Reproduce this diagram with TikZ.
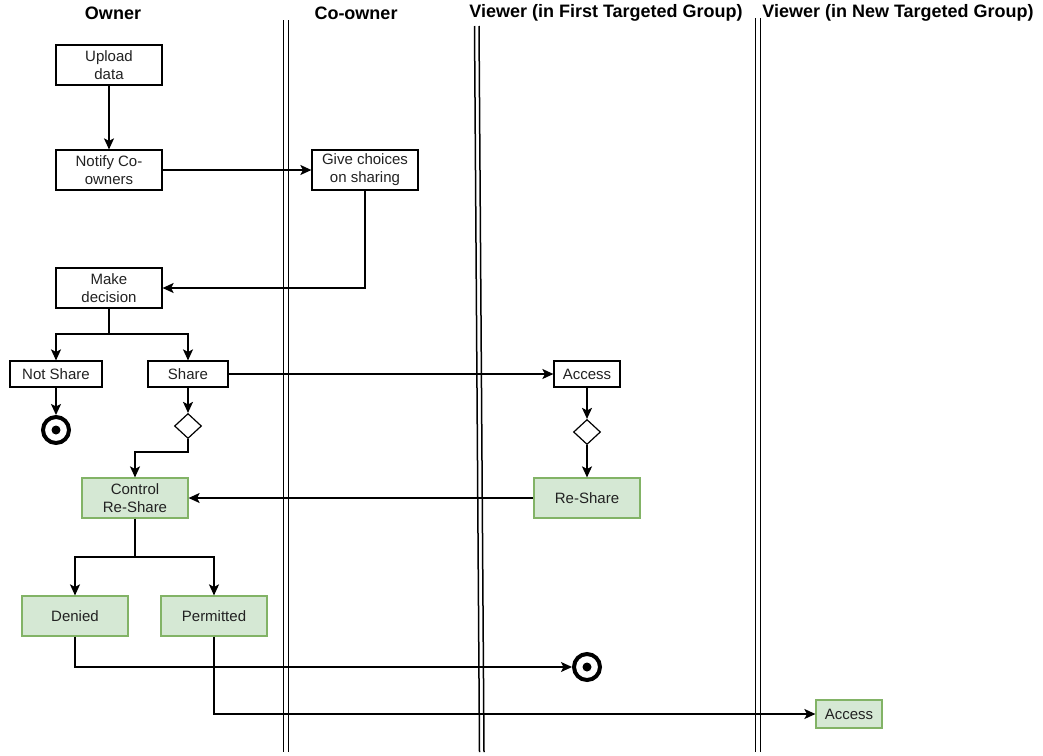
\documentclass[tikz,border=0pt]{standalone}
\usepackage{fontspec}
\setmainfont{Liberation Sans}
\usetikzlibrary{arrows.meta,shapes.geometric}
\definecolor{gfill}{HTML}{D5E8D4}
\definecolor{gline}{HTML}{82B366}
\definecolor{ink}{HTML}{222222}
\tikzset{
  act/.style={draw=black, line width=1.2pt, fill=white, align=center, inner sep=0pt,
    font=\fontsize{15}{18}\selectfont, text=ink},
  green/.style={act, fill=gfill, draw=gline},
  choice/.style={draw=black, line width=1.2pt, fill=white, diamond, inner sep=0pt,
    minimum width=27pt, minimum height=25pt},
  finish/.style={circle, draw=black, line width=4pt, minimum size=26pt, inner sep=0pt,
    path picture={\fill[black] (path picture bounding box.center) circle (4.5pt);}},
  flow/.style={line width=1.4pt, -{Stealth[length=11pt,width=10pt,inset=2.5pt]}},
  link/.style={line width=1.4pt},
  lane/.style={line width=1.5pt},
  head/.style={font=\fontsize{18}{21}\selectfont\bfseries, inner sep=0pt},
}
\begin{document}
\begin{tikzpicture}[x=1pt,y=-1pt]
\useasboundingbox (0,0) rectangle (1043,755);

% swimlane headers
\node[head] (hOwner) at (113,13) {Owner};
\node[head] (hCo) at (356,13) {Co-owner};
\node[head] (hV1) at (606,13) {Viewer (in First Targeted Group)};
\node[head] (hV2) at (898,13) {Viewer (in New Targeted Group)};

% lane separators (double lines)
\draw[lane] (283.5,20) -- (283.5,752);
\draw[lane] (288.5,20) -- (288.5,752);
\draw[lane] (474.5,26) -- (479.5,752);
\draw[lane] (479,26) -- (484,752);
\draw[lane] (755.5,18) -- (755.5,752);
\draw[lane] (760.5,18) -- (760.5,752);

% activities
\node[act, minimum width=106pt, minimum height=40pt] (up) at (109,65) {Upload\\data};
\node[act, minimum width=106pt, minimum height=40pt] (notify) at (109,170) {Notify Co-\\owners};
\node[act, minimum width=106pt, minimum height=40pt] (give) at (365,170) {Give choices\\on sharing};
\node[act, minimum width=106pt, minimum height=40pt] (make) at (109,288) {Make\\decision};
\node[act, minimum width=92pt, minimum height=26pt] (notshare) at (56,374) {Not Share};
\node[act, minimum width=80pt, minimum height=26pt] (share) at (188,374) {Share};
\node[finish] (end1) at (56,430) {};
\node[choice] (d1) at (188,426) {};
\node[green, minimum width=106pt, minimum height=40pt] (ctrl) at (135,498) {Control\\Re-Share};
\node[green, minimum width=106pt, minimum height=40pt] (denied) at (75,616) {Denied};
\node[green, minimum width=106pt, minimum height=40pt] (permit) at (214,616) {Permitted};
\node[act, minimum width=66pt, minimum height=26pt] (acc1) at (587,374) {Access};
\node[choice] (d2) at (587,432) {};
\node[green, minimum width=106pt, minimum height=40pt] (reshare) at (587,498) {Re-Share};
\node[finish] (end2) at (587,667) {};
\node[green, minimum width=66pt, minimum height=28pt] (acc2) at (849,714) {Access};

% connectors
\draw[flow] (up) -- (notify);
\draw[flow] (notify) -- (give);
\draw[flow] (give.south) |- (make.east);
\coordinate (split1) at (109,334);
\draw[link] (make.south) -- (split1);
\draw[flow] (split1) -| (notshare.north);
\draw[flow] (split1) -| (share.north);
\draw[flow] (notshare) -- (end1);
\draw[flow] (share) -- (d1);
\coordinate (bend1) at (188,452);
\draw[flow] (d1.south) -- (bend1) -| (ctrl.north);
\draw[flow] (share) -- (acc1);
\draw[flow] (acc1) -- (d2);
\draw[flow] (d2) -- (reshare);
\draw[flow] (reshare) -- (ctrl);
\coordinate (split2) at (135,557);
\draw[link] (ctrl.south) -- (split2);
\draw[flow] (split2) -| (denied.north);
\draw[flow] (split2) -| (permit.north);
\draw[flow] (denied.south) |- (end2.west);
\draw[flow] (permit.south) |- (acc2.west);
\end{tikzpicture}
\end{document}
